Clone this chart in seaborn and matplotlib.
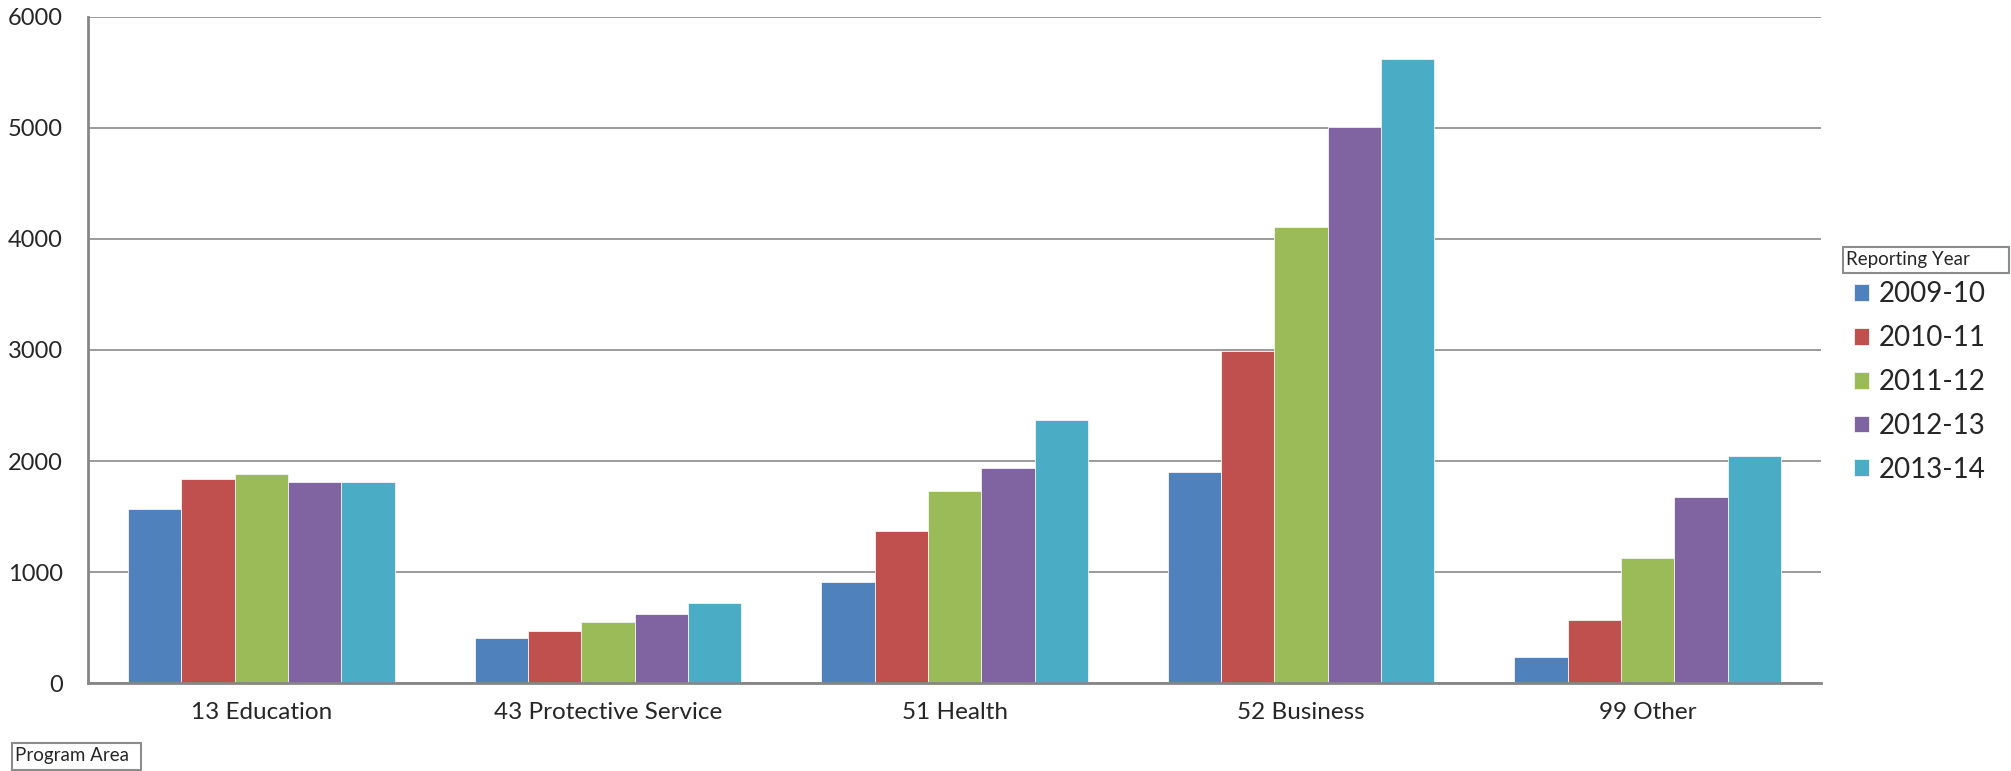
import pandas as pd
import seaborn as sns
import matplotlib.pyplot as plt
from matplotlib.patches import Rectangle

# Data
areas = ['13 Education', '43 Protective Service', '51 Health', '52 Business', '99 Other']
years = ['2009-10', '2010-11', '2011-12', '2012-13', '2013-14']
y2009 = [1570, 405, 907, 1898, 234]
y2010 = [1838, 472, 1369, 2992, 570]
y2011 = [1883, 550, 1730, 4105, 1129]
y2012 = [1814, 625, 1937, 5006, 1679]
y2013 = [1808, 724, 2367, 5622, 2042]
colors = ['#4F81BD', '#C0504D', '#9BBB59', '#8064A2', '#4BACC6']

rows = []
for yr, vals in zip(years, [y2009, y2010, y2011, y2012, y2013]):
    for a, v in zip(areas, vals):
        rows.append({'Program Area': a, 'Reporting Year': yr, 'Count': v})
df = pd.DataFrame(rows)

sns.set_style('white')
plt.rcParams['font.family'] = ['Lato', 'DejaVu Sans']

fig = plt.figure(figsize=(20.11, 7.71), dpi=100)
ax = fig.add_axes([0.0438, 0.1141, 0.9055 - 0.0438, 0.978 - 0.1141])

sns.barplot(data=df, x='Program Area', y='Count', hue='Reporting Year',
            palette=colors, saturation=1, width=5 / 6.5, ax=ax,
            edgecolor='#f4f4f4', linewidth=0.6, legend=True)

# axes styling
ax.set_xlim(-0.5, 4.5)
ax.set_ylim(0, 6000)
ax.set_yticks(range(0, 6001, 1000))
ax.yaxis.grid(True, color='#8a8a8a', linewidth=1.2)
ax.set_axisbelow(True)
ax.set_xlabel('')
ax.set_ylabel('')
for s in ['top', 'right']:
    ax.spines[s].set_visible(False)
for s in ['left', 'bottom']:
    ax.spines[s].set_color('#868686')
    ax.spines[s].set_linewidth(2)
ax.tick_params(axis='y', length=6, width=1.5, color='#868686', pad=12, labelsize=17)
ax.tick_params(axis='x', which='major', length=0, pad=14, labelsize=17.5)
ax.set_xticks([-0.5 + i for i in range(6)], minor=True)
ax.tick_params(axis='x', which='minor', length=9, width=1.5, color='#868686')

# legend
handles, labels = ax.get_legend_handles_labels()
ax.legend(handles, labels, loc='upper left', bbox_to_anchor=(0.922, 0.635),
          bbox_transform=fig.transFigure, frameon=False, fontsize=20,
          handlelength=0.55, handleheight=0.55, handletextpad=0.35,
          labelspacing=0.64, borderpad=0, borderaxespad=0)

# field buttons
fig.patches.append(Rectangle((1843 / 2011, 1 - 273 / 771), 166 / 2011, 26 / 771,
                             transform=fig.transFigure, fill=False,
                             edgecolor='#8c8c8c', linewidth=1.5))
fig.text(1846 / 2011, 1 - 260 / 771, 'Reporting Year', fontsize=13.5, va='center', ha='left')
fig.patches.append(Rectangle((12 / 2011, 1 - 770 / 771), 129 / 2011, 27 / 771,
                             transform=fig.transFigure, fill=False,
                             edgecolor='#8c8c8c', linewidth=1.5))
fig.text(15 / 2011, 1 - 756 / 771, 'Program Area', fontsize=13.5, va='center', ha='left')

fig.savefig('out.png', dpi=100)
